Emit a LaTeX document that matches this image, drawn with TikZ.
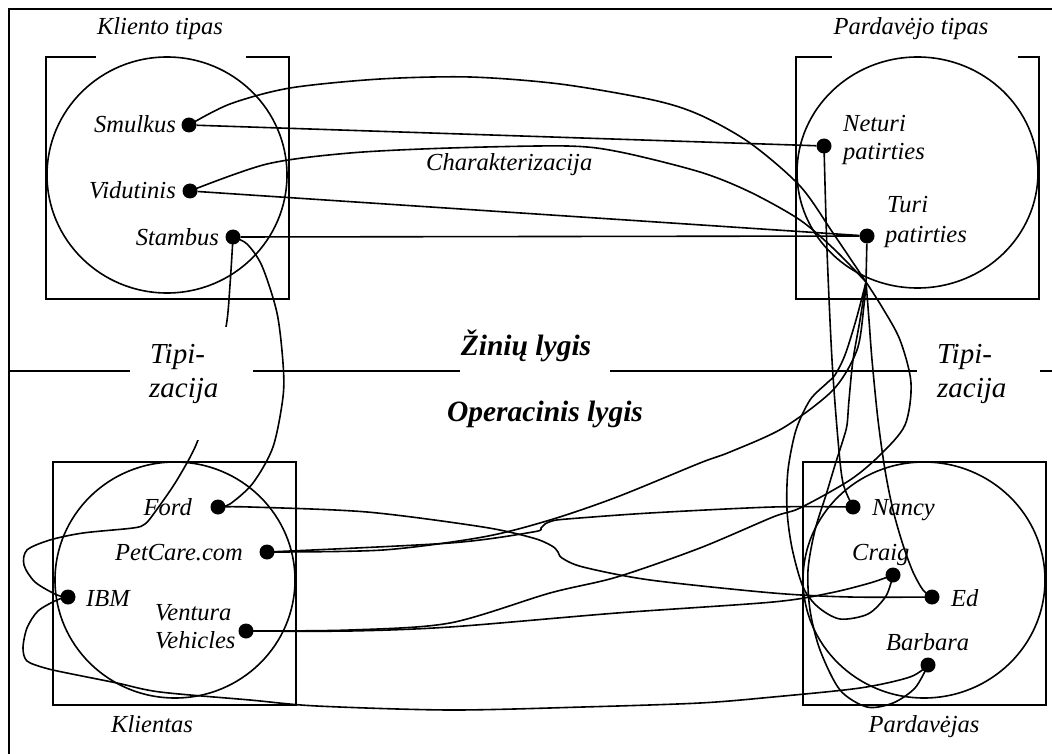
\documentclass[tikz,border=0pt]{standalone}
\usepackage{fontspec}
\setmainfont{Liberation Serif}
\begin{document}
\begin{tikzpicture}[x=1pt,y=-1pt,
  lbl/.style={inner sep=0pt, font=\fontsize{24.5}{28}\selectfont\itshape},
  biglbl/.style={inner sep=0pt, font=\fontsize{29}{33}\selectfont\itshape},
  lvl/.style={inner sep=0pt, font=\fontsize{29.5}{33}\selectfont\bfseries\itshape},
  dot/.style={circle, fill=black, inner sep=0pt, minimum size=15pt},
  link/.style={line width=1.6pt},
  frameline/.style={line width=2pt},
  boxline/.style={line width=1.8pt},
  setline/.style={line width=1.6pt},
]
\useasboundingbox (0,0) rectangle (1052,754);
\fill[white] (0,0) rectangle (1052,754);

% outer frame and level divider
\draw[frameline] (9,754) -- (9,9) -- (1052,9);
\draw[boxline] (9,371) -- (130,371);
\draw[boxline] (253,371) -- (460,371);
\draw[boxline] (610,371) -- (917,371);
\draw[boxline] (1040,371) -- (1052,371);

% boxes (top ones open where the title sits)
\draw[boxline] (96,57) -- (46,57) -- (46,299) -- (289,299) -- (289,57) -- (246,57);
\draw[boxline] (832,57) -- (796,57) -- (796,299) -- (1039,299) -- (1039,57) -- (1018,57);
\draw[boxline] (53,462) rectangle (296,705);
\draw[boxline] (803,462) rectangle (1046,705);

% sets
\draw[setline] (167,175) ellipse [x radius=120pt, y radius=118pt];
\draw[setline] (917.5,172.5) ellipse [x radius=120.5pt, y radius=115.5pt];
\draw[setline] (175,580) ellipse [x radius=120pt, y radius=118pt];
\draw[setline] (924,580) ellipse [x radius=121pt, y radius=118pt];

% elements
\node[dot] (smulkus) at (189,125) {};
\node[dot] (vidutinis) at (190,191) {};
\node[dot] (stambus) at (233,237) {};
\node[dot] (neturi) at (824,146) {};
\node[dot] (turi) at (867,236) {};
\node[dot] (ford) at (218,507) {};
\node[dot] (petcare) at (267,552) {};
\node[dot] (ibm) at (68,597) {};
\node[dot] (ventura) at (246,631) {};
\node[dot] (nancy) at (853,507) {};
\node[dot] (craig) at (893,575) {};
\node[dot] (ed) at (932,597) {};
\node[dot] (barbara) at (928,665) {};
\coordinate (J) at (866,282);

% characterization
\draw[link] (smulkus) -- (neturi);
\draw[link] (vidutinis) -- (turi);
\draw[link] (stambus) -- (turi);

% typing through the hub below "Turi patirties"
\draw[link] (turi) -- (J);
\draw[link] plot[smooth] coordinates {(smulkus) (230,104) (290,88) (380,79) (470,77) (560,84) (653,100) (700,115) (750,143) (800,186) (833,233) (J)};
\draw[link] plot[smooth] coordinates {(vidutinis) (267,164) (350,153) (450,148) (567,146) (620,152) (700,172) (750,192) (800,220) (835,250) (J)};
\draw[link] plot[smooth] coordinates {(J) (864,305) (857,350) (833,390) (783,428) (730,452) (700,463) (617,497) (550,520) (483,537) (383,550) (petcare)};
\draw[link] plot[smooth] coordinates {(J) (882,307) (900,340) (911,383) (905,425) (880,455) (850,480) (800,508) (773,517) (700,548) (617,577) (550,593) (450,623) (350,630) (ventura)};
\draw[link] plot[smooth] coordinates {(J) (856,320) (845,355) (835,375) (827,383) (810,400) (796,430) (788,470) (787,510) (792,548) (803,587) (818,607) (840,619) (868,614) (886,596) (craig)};
\draw[link] plot[smooth] coordinates {(J) (860,320) (853,360) (849,400) (847,425) (843,440) (835,465) (826,495) (815,530) (808,570) (810,610) (820,650) (840,690) (867,707) (893,703) (915,688) (barbara)};
\draw[link] plot[smooth] coordinates {(J) (869,320) (872,360) (878,420) (885,470) (893,510) (903,545) (913,572) (923,590) (ed)};
\draw[link] plot[smooth] coordinates {(neturi) (827,250) (832,360) (838,440) (843,483) (nancy)};
\draw[link] plot[smooth] coordinates {(ford) (230,504) (253,483) (273,447) (283,397) (283,363) (277,313) (262,266) (247,244) (stambus)};
\draw[link] plot[smooth] coordinates {(ibm) (57,595) (35,582) (24,565) (27,550) (50,540) (83,533) (133,528) (145,524) (155,512) (177,480) (198,440) (212,385) (226,327) (230,285) (stambus)};

% sales representatives
\draw[link] plot[smooth] coordinates {(ibm) (57,600) (38,611) (27,628) (23,648) (27,661) (45,668) (67,673) (117,683) (160,692) (250,700) (317,706) (450,710) (583,707) (700,703) (773,697) (860,688) (910,677) (barbara)};
\draw[link] plot[smooth] coordinates {(ford) (250,507) (367,512) (483,527) (533,538) (552,546) (558,552) (562,558) (583,567) (650,580) (773,593) (850,597) (ed)};
\draw[link] plot[smooth] coordinates {(petcare) (450,543) (533,532) (541,528) (545,524) (552,521) (567,519) (650,513) (773,507) (nancy)};
\draw[link] plot[smooth] coordinates {(ventura) (350,631) (450,627) (617,613) (773,602) (830,593) (870,583) (craig)};

% clear space for the left typing label
\fill[white] (130,327) rectangle (253,440);

% texts
\node[lbl, anchor=base] (tKlientoTipas) at (160,35) {Kliento tipas};
\node[lbl, anchor=base] (tPardTipas) at (911,35) {Pardavėjo tipas};
\node[lbl, anchor=base east] (tSmulkus) at (176,133) {Smulkus};
\node[lbl, anchor=base east] (tVidutinis) at (176,199) {Vidutinis};
\node[lbl, anchor=base east] (tStambus) at (219,245) {Stambus};
\node[lbl, anchor=base west] (tNeturiA) at (843,132) {Neturi};
\node[lbl, anchor=base west] (tNeturiB) at (843,160) {patirties};
\node[lbl, anchor=base west] (tTuriA) at (887,213) {Turi};
\node[lbl, anchor=base west] (tTuriB) at (885,243) {patirties};
\node[lbl, anchor=base west] (tChar) at (426,171) {Charakterizacija};
\node[lvl, anchor=base] (tZiniu) at (526,355) {Žinių lygis};
\node[lvl, anchor=base] (tOper) at (545,421) {Operacinis lygis};
\node[biglbl, anchor=base west] (tTipiLA) at (150,363) {Tipi-};
\node[biglbl, anchor=base west] (tTipiLB) at (149,397) {zacija};
\node[biglbl, anchor=base west] (tTipiRA) at (937,363) {Tipi-};
\node[biglbl, anchor=base west] (tTipiRB) at (937,397) {zacija};
\node[lbl, anchor=base east] (tFord) at (192,515) {Ford};
\node[lbl, anchor=base west] (tPetCare) at (115,560) {PetCare.com};
\node[lbl, anchor=base west] (tIBM) at (86,606) {IBM};
\node[lbl, anchor=base west] (tVenturaA) at (155,620) {Ventura};
\node[lbl, anchor=base west] (tVenturaB) at (155,648) {Vehicles};
\node[lbl, anchor=base] (tKlientas) at (152,732) {Klientas};
\node[lbl, anchor=base west] (tNancy) at (872,515) {Nancy};
\node[lbl, anchor=base west] (tCraig) at (852,560) {Craig};
\node[lbl, anchor=base west] (tEd) at (951,606) {Ed};
\node[lbl, anchor=base west] (tBarbara) at (886,650) {Barbara};
\node[lbl, anchor=base] (tPardavejas) at (924,732) {Pardavėjas};
\end{tikzpicture}
\end{document}
